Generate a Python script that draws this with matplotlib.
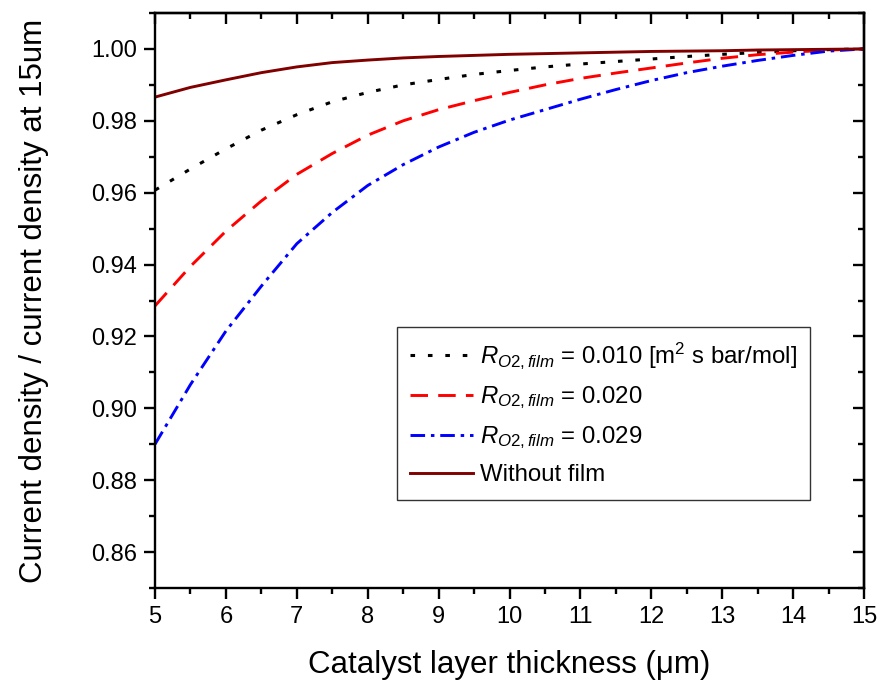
import matplotlib
matplotlib.use("Agg")
import matplotlib.pyplot as plt
from matplotlib.ticker import MultipleLocator, FormatStrFormatter

plt.rcParams['font.family'] = ['Liberation Sans', 'DejaVu Sans']
plt.rcParams['mathtext.fontset'] = 'custom'
plt.rcParams['mathtext.rm'] = 'Liberation Sans'
plt.rcParams['mathtext.it'] = 'Liberation Sans:italic'

# Data
x_film = [5, 5.5, 6, 6.5, 7, 7.5, 8, 8.5, 9, 9.5, 10, 10.5, 11, 11.5, 12, 12.5, 13, 13.5, 14, 14.5, 15]
r010 = [0.9607, 0.9666, 0.9722, 0.9774, 0.9817, 0.9853, 0.9879, 0.9900, 0.9915, 0.9929,
        0.9940, 0.9950, 0.9958, 0.9965, 0.9972, 0.9979, 0.9985, 0.9990, 0.9995, 0.9998, 1.0]
r020 = [0.9285, 0.9395, 0.9493, 0.9577, 0.9651, 0.9709, 0.9760, 0.9800, 0.9831, 0.9856,
        0.9879, 0.9900, 0.9918, 0.9933, 0.9947, 0.9961, 0.9974, 0.9984, 0.9991, 0.9997, 1.0]
r029 = [0.8900, 0.9066, 0.9215, 0.9340, 0.9458, 0.9545, 0.9620, 0.9678, 0.9727, 0.9768,
        0.9802, 0.9831, 0.9860, 0.9887, 0.9912, 0.9934, 0.9952, 0.9968, 0.9982, 0.9994, 1.0]
no_film = [0.9866, 0.9893, 0.9914, 0.9934, 0.9950, 0.9962, 0.9969, 0.9975, 0.9979, 0.9982,
           0.9985, 0.9987, 0.9989, 0.9991, 0.9993, 0.9994, 0.9995, 0.9997, 0.9998, 0.9999, 1.0]

labels = [r'$\mathit{R}_{\mathit{O2,film}}$ = 0.010 [m$^2$ s bar/mol]',
          r'$\mathit{R}_{\mathit{O2,film}}$ = 0.020',
          r'$\mathit{R}_{\mathit{O2,film}}$ = 0.029',
          'Without film']

fig = plt.figure(figsize=(8.82, 6.94), dpi=100)
ax = fig.add_axes([155/882, 1 - 588/694, (864-155)/882, (588-13)/694])

ax.plot(x_film, r010, color='black', lw=2.2, linestyle=(0, (1.5, 4.2)), label=labels[0])
ax.plot(x_film, r020, color='#ff0000', lw=2.1, linestyle=(0, (6, 3.5)), label=labels[1])
ax.plot(x_film, r029, color='#0000ff', lw=2.1, linestyle=(0, (5, 2, 1.2, 2)), label=labels[2])
ax.plot(x_film, no_film, color='#800000', lw=2.1, linestyle='-', label=labels[3])

ax.set_xlim(5, 15)
ax.set_ylim(0.85, 1.01)
ax.xaxis.set_major_locator(MultipleLocator(1))
ax.xaxis.set_minor_locator(MultipleLocator(0.5))
ax.yaxis.set_major_locator(MultipleLocator(0.02))
ax.yaxis.set_minor_locator(MultipleLocator(0.01))
ax.yaxis.set_major_formatter(FormatStrFormatter('%.2f'))

for s in ax.spines.values():
    s.set_linewidth(1.7)

ax.tick_params(axis='both', which='major', labelsize=17, width=1.7, length=8, pad=5)
ax.tick_params(axis='both', which='minor', width=1.7, length=4.5)
ax.tick_params(axis='x', which='both', direction='out', top=False)
ax.tick_params(axis='y', which='both', direction='out', right=False)

# inward ticks on top and right
sec_x = ax.secondary_xaxis('top')
sec_x.xaxis.set_major_locator(MultipleLocator(1))
sec_x.xaxis.set_minor_locator(MultipleLocator(0.5))
sec_x.tick_params(which='major', direction='in', length=8, width=1.7, labeltop=False)
sec_x.tick_params(which='minor', direction='in', length=4.5, width=1.7)
sec_x.spines['top'].set_linewidth(1.7)
sec_y = ax.secondary_yaxis('right')
sec_y.yaxis.set_major_locator(MultipleLocator(0.02))
sec_y.yaxis.set_minor_locator(MultipleLocator(0.01))
sec_y.tick_params(which='major', direction='in', length=8, width=1.7, labelright=False)
sec_y.tick_params(which='minor', direction='in', length=4.5, width=1.7)
sec_y.spines['right'].set_linewidth(1.7)

ax.set_xlabel('Catalyst layer thickness (μm)', fontsize=22.5, labelpad=16)
ax.set_ylabel('Current density / current density at 15um', fontsize=22.5, labelpad=30)

leg = ax.legend(loc='upper left', bbox_to_anchor=((397-155)/709, (588-327)/575),
                fontsize=17.3, frameon=True, fancybox=False, edgecolor='black',
                handlelength=2.6, handletextpad=0.3, labelspacing=0.55,
                borderpad=0.55, borderaxespad=0)
leg.get_frame().set_linewidth(1.0)

fig.savefig('out.png', dpi=100)
